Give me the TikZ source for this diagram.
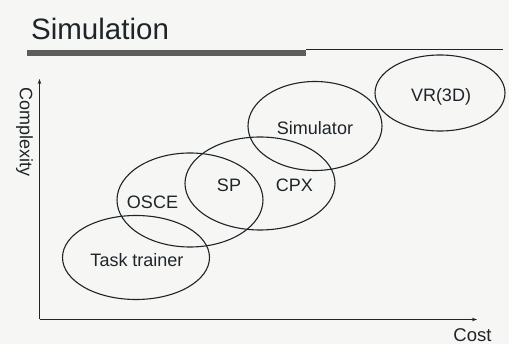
\documentclass[tikz,border=0pt]{standalone}
\usepackage{fontspec}
\setmainfont{Liberation Sans}
\usetikzlibrary{shapes.geometric,arrows.meta}
\definecolor{ink}{HTML}{1E2428}
\definecolor{paper}{HTML}{F6F7F5}
\definecolor{barfill}{HTML}{5C5E5E}
\tikzset{
  blob/.style={draw=ink, line width=1.1pt, ellipse, inner sep=0pt},
  lbl/.style={text=ink, inner sep=0pt, anchor=base, font=\fontsize{18}{18}\selectfont},
  axis/.style={draw=ink, line width=1.1pt, -{Stealth[length=5pt,width=3.5pt]}},
}
\begin{document}
\begin{tikzpicture}[x=1pt,y=-1pt]
  % page
  \fill[paper] (0,0) rectangle (509,344);
  \useasboundingbox (0,0) rectangle (509,344);

  % heading and rule
  \node[text=ink, inner sep=0pt, anchor=base west,
        font=\fontsize{29.5}{29.5}\selectfont] (title) at (31,40) {Simulation};
  \fill[barfill] (27,50) rectangle (306,56);
  \coordinate (ruleA) at (306,49);
  \coordinate (ruleB) at (503,49);
  \draw[ink, line width=0.8pt] (ruleA) -- (ruleB);

  % axes
  \coordinate (O) at (39.5,319.5);
  \coordinate (ytip) at (39.5,79);
  \coordinate (xtip) at (477,319.5);
  \draw[axis] (O) -- (ytip);
  \draw[axis] (O) -- (xtip);
  \node[text=ink, inner sep=0pt, rotate=-90, font=\fontsize{18}{18}\selectfont]
    (ylab) at (24.5,132.5) {Complexity};
  \node[lbl, font=\fontsize{18.5}{18.5}\selectfont] (xlab) at (472.5,341.5) {Cost};

  % regions
  \node[blob, minimum width=147pt, minimum height=84pt] (task) at (136,257.5) {};
  \node[blob, minimum width=146pt, minimum height=94pt] (osce) at (190,200) {};
  \node[blob, minimum width=150pt, minimum height=93pt] (cpx) at (260,183.5) {};
  \node[blob, minimum width=134pt, minimum height=89pt] (sim) at (315,126) {};
  \node[blob, minimum width=130pt, minimum height=76pt] (vr) at (440,93) {};

  % labels
  \node[lbl] (tTask) at (137,267) {Task trainer};
  \node[lbl] (tOsce) at (152.5,208.5) {OSCE};
  \node[lbl] (tSp) at (229,192) {SP};
  \node[lbl] (tCpx) at (294.5,192) {CPX};
  \node[lbl] (tSim) at (315,135) {Simulator};
  \node[lbl] (tVr) at (441,101.5) {VR(3D)};
\end{tikzpicture}
\end{document}
